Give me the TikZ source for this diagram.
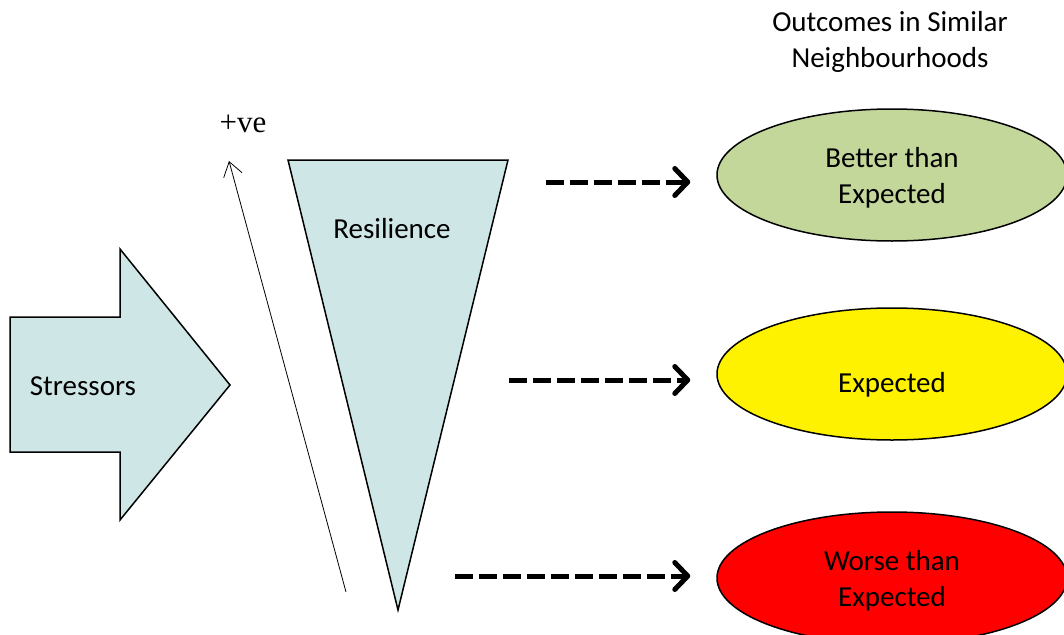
\documentclass[tikz,border=0pt]{standalone}
\usepackage{fontspec}
\setmainfont{Carlito}
\newfontfamily\timesfont{Liberation Serif}
\usetikzlibrary{shapes.geometric, arrows.meta}

\definecolor{paleteal}{RGB}{207,230,230}
\definecolor{sagegreen}{RGB}{196,215,155}

\tikzset{
    shapefill/.style={draw, line width=1.5pt, fill=paleteal, line join=miter},
    outcome/.style={ellipse, draw, line width=1.5pt, minimum width=350pt, minimum height=132pt, align=center, inner sep=0pt},
    outarrow/.style={line width=5pt, dash pattern=on 18pt off 6pt, -{Straight Barb[length=13pt, width=27pt, round]}, shorten >=26pt},
}

\begin{document}
\begin{tikzpicture}[x=1pt, y=-1pt, font=\fontsize{29}{36}\selectfont]
    \useasboundingbox (0,0) rectangle (1064,634);

    % Stressors arrow
    \draw[shapefill] (10,317) -- (120,317) -- (120,249) -- (230,385) -- (120,520) -- (120,452) -- (10,452) -- cycle;
    \node (stressors) at (83,386) {Stressors};

    % Resilience funnel
    \draw[shapefill] (288,160) -- (508,160) -- (398,610) -- cycle;
    \node (resilience) at (392,229) {Resilience};

    % Direction of resilience
    \coordinate (low) at (346,592);
    \coordinate (high) at (229,161);
    \draw[line width=0.8pt, -{Straight Barb[length=14pt, width=19pt]}] (low) -- (high);
    \node (plus) at (243,124) {\timesfont\fontsize{31}{36}\selectfont +ve};

    % Outcomes
    \node (heading) at (890,42) [align=center] {Outcomes in Similar\\Neighbourhoods};
    \node[outcome, fill=sagegreen, text depth=0pt] (better) at (892,175) {Better than\\Expected};
    \node[outcome, fill=yellow, text height=42pt] (expected) at (892,374) {Expected};
    \node[outcome, fill=red, text depth=0pt] (worse) at (892,578) {Worse than\\Expected};

    \coordinate (s1) at (546,182);
    \coordinate (s2) at (509,380);
    \coordinate (s3) at (455,576);
    \foreach \s/\t in {s1/better, s2/expected, s3/worse}
        \draw[outarrow] (\s) -- (\s -| \t.west);
\end{tikzpicture}
\end{document}
